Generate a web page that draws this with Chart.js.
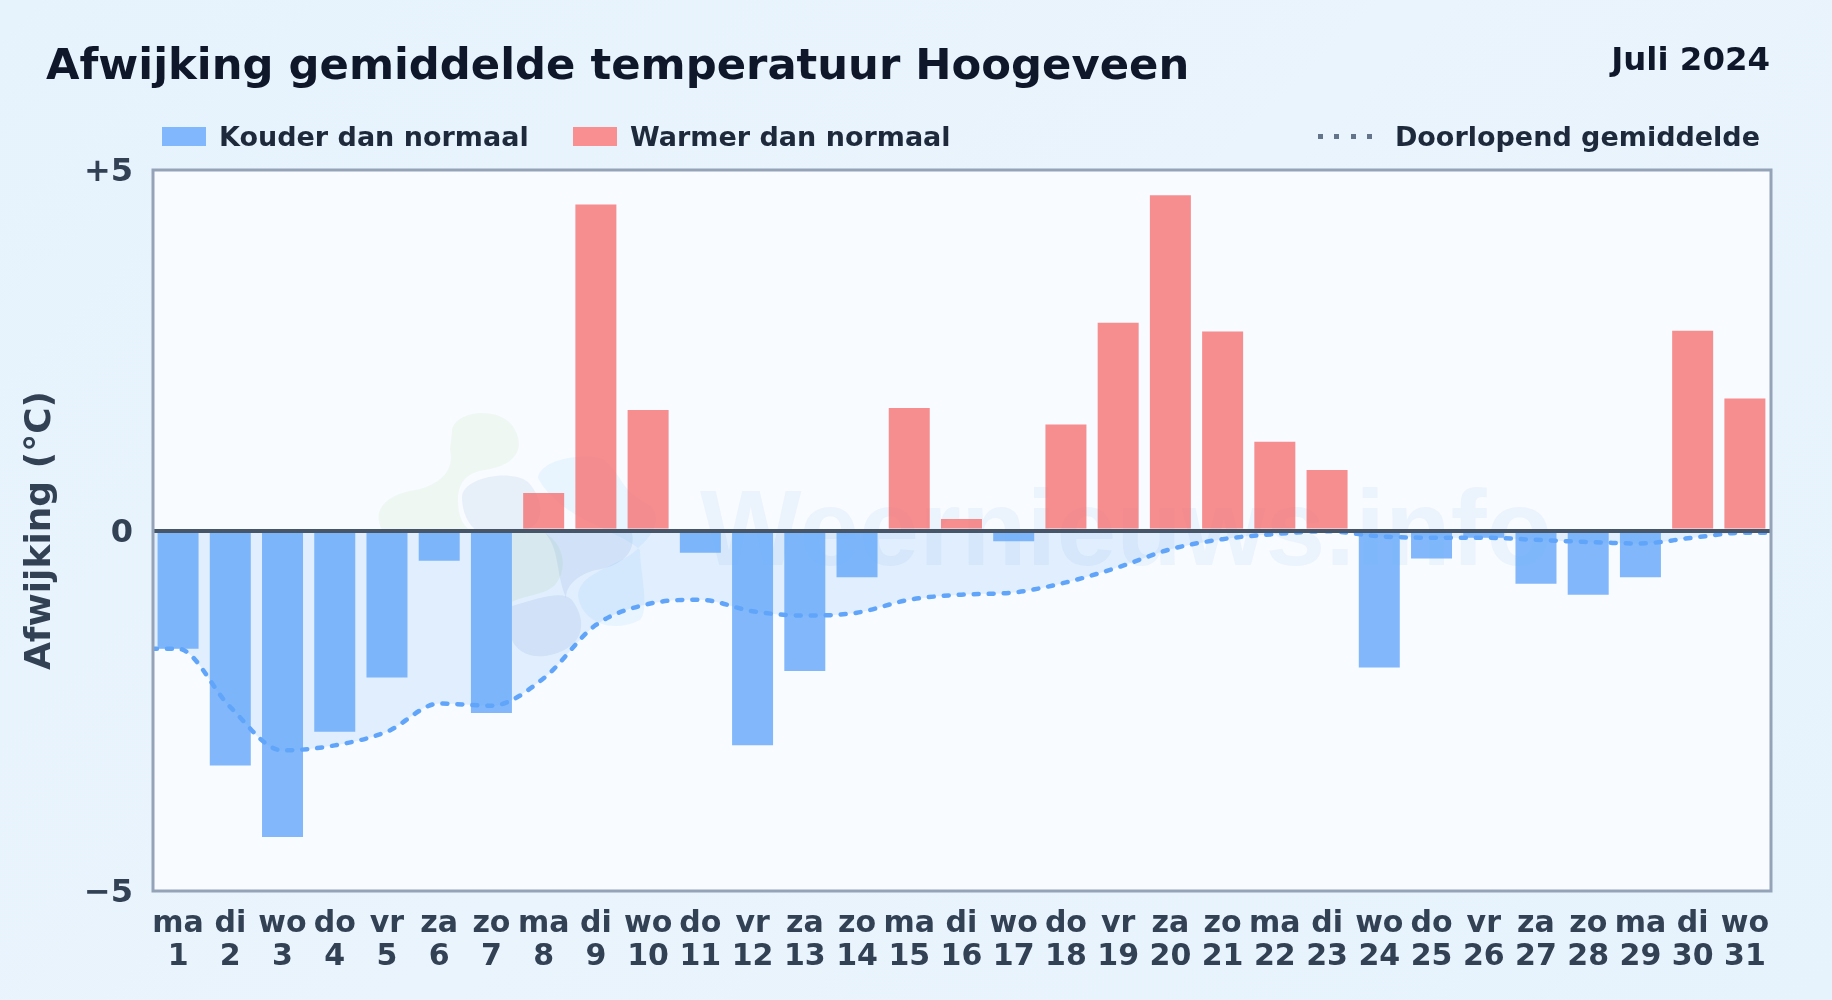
<!DOCTYPE html>
<html lang="nl">
<head>
<meta charset="utf-8">
<title>Afwijking gemiddelde temperatuur Hoogeveen</title>
<script src="https://cdn.jsdelivr.net/npm/chart.js@4"></script>
<style>
    html, body { margin: 0; padding: 0; background: #e8f3fc; }
    #wrap { position: relative; width: 1832px; height: 1000px; overflow: hidden;
            background: linear-gradient(135deg, #e7f3fc 0%, #e9f4fd 50%, #e7f3fc 100%);
            font-family: "DejaVu Sans", sans-serif; font-weight: bold; }
    #wrap div { position: absolute; white-space: nowrap; line-height: 1; }
    #chart { position: absolute; left: 0; top: 0; }
    .legend-text { font-size: 27px; color: #1e293b; top: 123px; }
    .swatch { top: 127px; width: 44px; height: 19px; }
</style>
</head>
<body>
<div id="wrap">
    <canvas id="chart" width="1832" height="1000"></canvas>
    <div style="left:46px; top:43px; font-size:43.3px; color:#0f172a;">Afwijking gemiddelde temperatuur Hoogeveen</div>
    <div style="right:62px; top:43px; font-size:32.4px; color:#0f172a;">Juli 2024</div>
    <div class="swatch" style="left:162px; background:#81b7fc;"></div>
    <div class="legend-text" style="left:219px;">Kouder dan normaal</div>
    <div class="swatch" style="left:573px; background:#f98f90;"></div>
    <div class="legend-text" style="left:630px;">Warmer dan normaal</div>
    <div style="left:1318px; top:134px; width:54px; height:5px; background:repeating-linear-gradient(to right,#64748b 0 5px,transparent 5px 16.3px);"></div>
    <div class="legend-text" style="right:72px;">Doorlopend gemiddelde</div>
</div>
<script>
const dayNames = ['ma','di','wo','do','vr','za','zo','ma','di','wo','do','vr','za','zo','ma','di','wo','do','vr','za','zo','ma','di','wo','do','vr','za','zo','ma','di','wo'];
const days = [1,2,3,4,5,6,7,8,9,10,11,12,13,14,15,16,17,18,19,20,21,22,23,24,25,26,27,28,29,30,31];
const deviation = [-1.64,-3.26,-4.25,-2.79,-2.04,-0.42,-2.53,0.52,4.52,1.67,-0.31,-2.98,-1.95,-0.65,1.70,0.16,-0.15,1.47,2.88,4.65,2.76,1.23,0.84,-1.90,-0.39,-0.10,-0.74,-0.89,-0.65,2.77,1.83];
const runningMean = [-1.64,-2.45,-3.05,-2.98,-2.79,-2.40,-2.43,-2.05,-1.31,-1.02,-0.96,-1.12,-1.18,-1.14,-0.96,-0.89,-0.86,-0.72,-0.51,-0.26,-0.12,-0.05,-0.01,-0.08,-0.10,-0.10,-0.13,-0.16,-0.18,-0.10,-0.03];
const yTicks = [-5, 0, 5];
const yTickLabels = ['\u22125', '0', '+5'];

const COLD = 'rgba(96, 165, 250, 0.78)';
const WARM = 'rgba(245, 105, 105, 0.75)';

// Line runs flat to both edges of the plot, half a day past the first and last bar
const meanPoints = days.map((d, i) => ({ x: d, y: runningMean[i] }));
meanPoints.unshift({ x: 0.5, y: runningMean[0] });
meanPoints.push({ x: 31.5, y: runningMean[runningMean.length - 1] });

// Plot background and pale watermark behind the bars
const plotBackground = {
    id: 'plotBackground',
    beforeDatasetsDraw(chart) {
        const { ctx, chartArea: a } = chart;
        ctx.save();
        ctx.fillStyle = '#f8fbff';
        ctx.fillRect(a.left, a.top, a.width, a.height);

        const blob = (color, path) => { ctx.fillStyle = color; ctx.fill(new Path2D(path)); };
        // green
        blob('rgba(170, 215, 130, 0.10)', 'M452 432C452 412 495 405 512 425C528 448 515 466 485 470C470 472 458 480 458 500C458 515 462 525 470 530L382 530C372 510 385 495 415 490C440 485 455 470 450 450Z');
        blob('rgba(170, 215, 130, 0.14)', 'M512 533L545 533C565 545 568 570 555 585C545 595 525 595 512 602Z');
        // blue-grey
        blob('rgba(90, 140, 200, 0.10)', 'M462 497C462 478 510 468 528 482C545 500 545 525 525 530L478 532C468 525 462 512 462 497Z');
        blob('rgba(90, 140, 200, 0.13)', 'M512 606C540 598 562 590 572 600C590 625 582 650 545 656C528 658 516 650 512 640Z');
        blob('rgba(90, 140, 200, 0.13)', 'M545 533L632 533C636 552 622 566 596 570C580 574 566 584 566 598C555 570 560 550 545 533Z');
        // light blue
        blob('rgba(110, 190, 250, 0.11)', 'M538 478C540 458 590 452 605 460C625 480 620 490 650 505C665 520 650 540 630 555C605 570 580 575 578 595C580 620 610 635 640 620C650 610 640 570 640 550C620 530 560 520 538 478Z');

        ctx.font = 'bold 107.5px "Liberation Sans", "DejaVu Sans", sans-serif';
        ctx.textBaseline = 'alphabetic';
        ctx.fillStyle = 'rgba(30, 115, 205, 0.06)';
        ctx.fillText('Weernieuws.info', 700, 565);
        ctx.restore();
    },
    afterDraw(chart) {
        const { ctx, chartArea: a } = chart;
        ctx.save();
        ctx.strokeStyle = '#94a3b8';
        ctx.lineWidth = 3;
        ctx.strokeRect(a.left, a.top, a.width, a.height);
        ctx.restore();
    }
};

new Chart(document.getElementById('chart').getContext('2d'), {
    data: {
        datasets: [
            {
                type: 'line',
                label: 'Doorlopend gemiddelde',
                data: meanPoints,
                borderColor: '#60a5fa',
                borderWidth: 4.5,
                borderDash: [5, 10],
                borderCapStyle: 'round',
                cubicInterpolationMode: 'monotone',
                pointRadius: 0,
                fill: 'origin',
                backgroundColor: 'rgba(96, 165, 250, 0.15)',
                order: 1
            },
            {
                type: 'bar',
                label: 'Afwijking',
                data: days.map((d, i) => ({ x: d, y: deviation[i] })),
                backgroundColor: deviation.map(v => v < 0 ? COLD : WARM),
                barPercentage: 0.785,
                categoryPercentage: 1,
                order: 2
            }
        ]
    },
    options: {
        responsive: false,
        animation: false,
        layout: { padding: { top: 170, right: 61, left: 19 } },
        plugins: { legend: { display: false }, tooltip: { enabled: false } },
        scales: {
            x: {
                type: 'linear',
                offset: false,
                min: 0.52,
                max: 31.5,
                afterBuildTicks: scale => { scale.ticks = days.map(d => ({ value: d })); },
                afterFit: scale => { scale.height = 109; },
                grid: { display: false },
                border: { display: false },
                ticks: {
                    autoSkip: false,
                    maxRotation: 0,
                    padding: 8,
                    color: '#334155',
                    font: { family: '"DejaVu Sans"', size: 30, weight: 'bold', lineHeight: 1.12 },
                    callback: v => [dayNames[v - 1], String(v)]
                }
            },
            y: {
                min: -5,
                max: 5,
                afterBuildTicks: scale => { scale.ticks = yTicks.map(v => ({ value: v })); },
                afterFit: scale => { scale.width = 134; },
                border: { display: false },
                grid: {
                    z: 1,
                    drawTicks: false,
                    lineWidth: 4,
                    color: c => c.tick.value === 0 ? '#475569' : 'transparent'
                },
                ticks: {
                    padding: 20,
                    labelOffset: 3,
                    color: '#334155',
                    font: { family: '"DejaVu Sans"', size: 32, weight: 'bold' },
                    callback: v => yTickLabels[yTicks.indexOf(v)]
                },
                title: {
                    display: true,
                    text: 'Afwijking (°C)',
                    color: '#334155',
                    padding: 0,
                    font: { family: '"DejaVu Sans"', size: 36, weight: 'bold' }
                }
            }
        }
    },
    plugins: [plotBackground]
});
</script>
</body>
</html>
